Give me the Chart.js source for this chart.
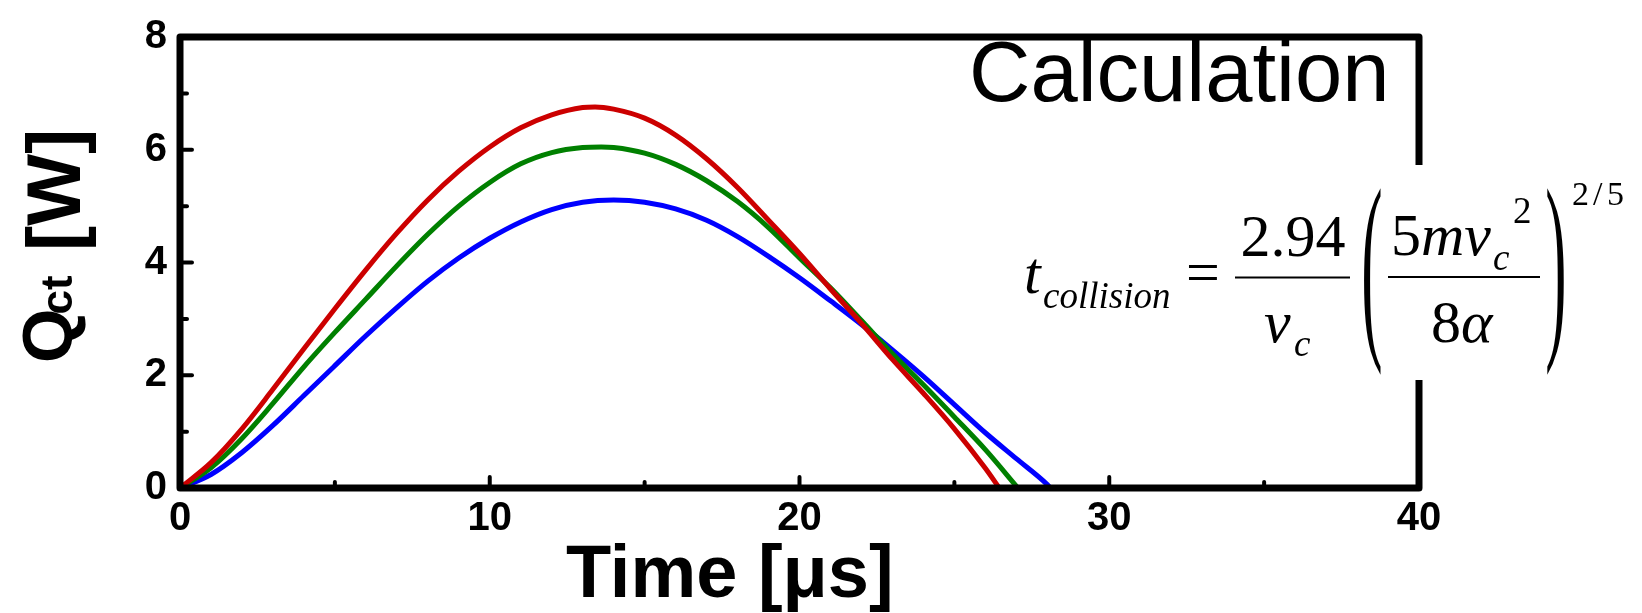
<!DOCTYPE html>
<html>
<head>
<meta charset="utf-8">
<script src="https://cdn.jsdelivr.net/npm/chart.js@4.4.1/dist/chart.umd.min.js"></script>
<style>
  html, body { margin: 0; padding: 0; background: #fff; }
  canvas { display: block; }
</style>
</head>
<body>
<canvas id="c" width="1642" height="613"></canvas>
<script>
// ---- data (time in µs, Q_ct in W) ----
const redT   = [0, 1, 2, 3, 4, 5, 6, 7, 8, 9, 10, 11, 12, 13, 13.4, 14, 15, 16, 17, 18, 19, 20, 21, 22, 23, 24, 25, 26, 26.45];
const redQ   = [0, 0.45, 1.05, 1.75, 2.47, 3.18, 3.87, 4.52, 5.11, 5.62, 6.05, 6.39, 6.62, 6.75, 6.76, 6.72, 6.56, 6.26, 5.84, 5.33, 4.75, 4.16, 3.53, 2.92, 2.28, 1.68, 1.05, 0.35, 0];
const greenT = [0, 1, 2, 3, 4, 5, 6, 7, 8, 9, 10, 11, 12, 13, 13.6, 14, 15, 16, 17, 18, 19, 20, 21, 22, 23, 24, 25, 26, 27.05];
const greenQ = [0, 0.36, 0.88, 1.50, 2.15, 2.76, 3.35, 3.94, 4.50, 5.00, 5.42, 5.75, 5.95, 6.04, 6.05, 6.04, 5.94, 5.74, 5.45, 5.08, 4.62, 4.08, 3.55, 2.97, 2.38, 1.83, 1.26, 0.68, 0];
const blueT  = [0, 1, 2, 3, 4, 5, 6, 7, 8, 9, 10, 11, 12, 13, 14, 15, 16, 17, 18, 19, 20, 21, 22, 23, 24, 25, 26, 27, 28, 28.1];
const blueQ  = [0, 0.24, 0.63, 1.11, 1.64, 2.17, 2.70, 3.20, 3.67, 4.08, 4.43, 4.72, 4.94, 5.07, 5.11, 5.07, 4.95, 4.75, 4.46, 4.11, 3.73, 3.32, 2.90, 2.45, 1.98, 1.48, 0.98, 0.52, 0.06, 0];

const xMajorTicks = [10, 20, 30];
const xMinorTicks = [5, 15, 25, 35];
const yMajorTicks = [2, 4, 6];
const yMinorTicks = [1, 3, 5, 7];

const xTitle = 'Time [μs]';
const yTitleMain = 'Q';
const yTitleSub = 'ct';
const yTitleUnit = '[W]';
const boxLabel = 'Calculation';

function pts(t, q) { return t.map((v, i) => ({ x: v, y: q[i] })); }

const SANS = '"Liberation Sans", Arial, sans-serif';
const SERIF = '"Liberation Serif", "Times New Roman", serif';

const decor = {
  id: 'decor',
  afterDraw(chart) {
    const { ctx, chartArea: a, scales: { x, y } } = chart;
    ctx.save();
    // frame
    ctx.strokeStyle = '#000';
    ctx.lineWidth = 7;
    ctx.lineJoin = 'round';
    ctx.strokeRect(a.left, a.top, a.right - a.left, a.bottom - a.top);
    // inward ticks
    ctx.lineWidth = 4;
    ctx.lineCap = 'round';
    const seg = (x1, y1, x2, y2) => { ctx.beginPath(); ctx.moveTo(x1, y1); ctx.lineTo(x2, y2); ctx.stroke(); };
    xMajorTicks.forEach(v => { const p = x.getPixelForValue(v); seg(p, a.bottom, p, a.bottom - 11); });
    xMinorTicks.forEach(v => { const p = x.getPixelForValue(v); seg(p, a.bottom, p, a.bottom - 6); });
    yMajorTicks.forEach(v => { const p = y.getPixelForValue(v); seg(a.left, p, a.left + 12, p); });
    yMinorTicks.forEach(v => { const p = y.getPixelForValue(v); seg(a.left, p, a.left + 7, p); });

    // white gap in right border behind formula
    ctx.fillStyle = '#fff';
    ctx.fillRect(a.right - 6, 165, 12, 215);

    ctx.fillStyle = '#000';
    ctx.textBaseline = 'alphabetic';
    ctx.textAlign = 'left';

    // "Calculation"
    ctx.font = '85px ' + SANS;
    ctx.fillText(boxLabel, 969, 101);

    // formula
    ctx.font = 'italic 60px ' + SERIF;
    ctx.fillText('t', 1024, 293);
    ctx.font = 'italic 37px ' + SERIF;
    ctx.fillText('collision', 1043, 308);
    ctx.font = '60px ' + SERIF;
    ctx.textAlign = 'center';
    ctx.fillText('=', 1203, 292);
    ctx.fillText('2.94', 1293, 256);
    ctx.fillRect(1235, 276.5, 115, 2);
    ctx.textAlign = 'left';
    ctx.font = 'italic 60px ' + SERIF;
    ctx.fillText('v', 1264, 342);
    ctx.font = 'italic 37px ' + SERIF;
    ctx.fillText('c', 1294, 356);
    // parens, stretched vertically
    const paren = (ch, px) => {
      ctx.save();
      ctx.font = '64px ' + SERIF;
      ctx.textAlign = 'center';
      ctx.textBaseline = 'middle';
      ctx.translate(px, 277.5);
      ctx.scale(1, 3.2);
      ctx.fillText(ch, 0, 0);
      ctx.restore();
    };
    paren('(', 1372);
    paren(')', 1556);
    ctx.font = '60px ' + SERIF;
    ctx.fillText('5', 1391, 255);
    let w5 = ctx.measureText('5').width;
    ctx.font = 'italic 60px ' + SERIF;
    ctx.fillText('mv', 1391 + w5, 255);
    ctx.font = 'italic 37px ' + SERIF;
    ctx.fillText('c', 1493, 270);
    ctx.font = '37px ' + SERIF;
    ctx.fillText('2', 1513, 223);
    ctx.fillRect(1388, 276, 152, 2);
    ctx.font = '60px ' + SERIF;
    ctx.fillText('8', 1431, 342);
    let w8 = ctx.measureText('8').width;
    ctx.font = 'italic 60px ' + SERIF;
    ctx.fillText('α', 1431 + w8, 342);
    ctx.font = '34px ' + SERIF;
    ctx.fillText('2', 1572, 205);
    ctx.fillText('/', 1593, 205);
    ctx.fillText('5', 1607, 205);

    // x title
    ctx.font = 'bold 74px ' + SANS;
    ctx.fillText(xTitle, 566, 597);

    // y title (rotated)
    ctx.save();
    ctx.translate(72, 363);
    ctx.rotate(-Math.PI / 2);
    ctx.font = 'bold 70px ' + SANS;
    ctx.fillText(yTitleMain, 0, 0);
    const wq = ctx.measureText(yTitleMain).width;
    ctx.font = 'bold 44px ' + SANS;
    ctx.fillText(yTitleSub, wq - 6, 0);
    ctx.font = 'bold 76px ' + SANS;
    ctx.fillText(yTitleUnit, 112, 8);
    ctx.restore();

    ctx.restore();
  }
};

new Chart(document.getElementById('c'), {
  type: 'line',
  data: {
    datasets: [
      { label: 'red', data: pts(redT, redQ), borderColor: '#cc0000' },
      { label: 'green', data: pts(greenT, greenQ), borderColor: '#008000' },
      { label: 'blue', data: pts(blueT, blueQ), borderColor: '#0000ff' }
    ]
  },
  options: {
    responsive: false,
    animation: false,
    devicePixelRatio: 1,
    layout: { padding: { left: 0, top: 22, right: 223, bottom: 0 } },
    elements: {
      line: { borderWidth: 5, cubicInterpolationMode: 'monotone', fill: false },
      point: { radius: 0, hoverRadius: 0 }
    },
    plugins: { legend: { display: false }, tooltip: { enabled: false } },
    scales: {
      x: {
        type: 'linear', min: 0, max: 40,
        grid: { display: false, drawTicks: false },
        border: { display: false },
        ticks: { stepSize: 10, color: '#000', padding: 7, font: { family: SANS, size: 40, weight: 'bold' } },
        afterFit(s) { s.height = 125; }
      },
      y: {
        type: 'linear', min: 0, max: 8,
        grid: { display: false, drawTicks: false },
        border: { display: false },
        ticks: { stepSize: 2, color: '#000', padding: 13, font: { family: SANS, size: 40, weight: 'bold' } },
        afterFit(s) { s.width = 180; }
      }
    }
  },
  plugins: [decor]
});
</script>
</body>
</html>
